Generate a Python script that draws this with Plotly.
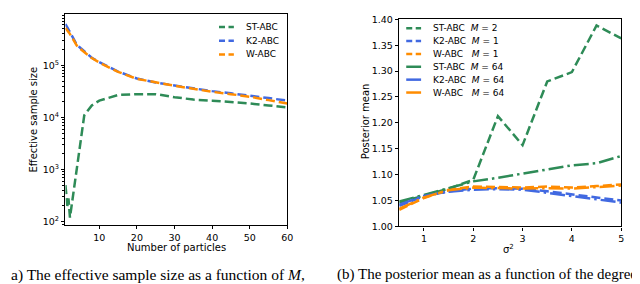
import plotly.graph_objects as go

# ---------------- data ----------------
# (a) effective sample size vs number of particles
st_x = [1, 1.5, 1.8, 2.2, 6, 8, 10, 15, 20, 25, 30, 35, 40, 45, 50, 55, 60]
st_ess = [500, 200, 280, 120, 11000, 17000, 21000, 27000, 28000, 28000, 24500,
          22000, 21000, 20000, 18500, 17000, 15500]
kw_x = [1, 2, 3, 4, 5, 6, 8, 10, 12, 15, 20, 25, 30, 35, 40, 45, 50, 55, 60]
k2_ess = [620000, 450000, 340000, 250000, 215000, 185000, 140000, 115000, 98000,
          76000, 56000, 47000, 41000, 36000, 32000, 29000, 26500, 23500, 21000]
w_ess = [520000, 420000, 320000, 240000, 205000, 180000, 138000, 113000, 96000,
         75000, 55000, 46500, 40500, 35500, 31000, 28000, 25000, 21500, 18500]

# (b) posterior mean vs sigma^2
sig2 = [0.5, 1.0, 1.5, 2.0, 2.5, 3.0, 3.5, 4.0, 4.5, 5.0]
st_m2 = [1.046, 1.060, 1.073, 1.090, 1.213, 1.157, 1.280, 1.298, 1.388, 1.363]
k2_m1 = [1.040, 1.058, 1.068, 1.073, 1.074, 1.073, 1.068, 1.062, 1.056, 1.050]
w_m1 = [1.032, 1.055, 1.071, 1.077, 1.076, 1.075, 1.077, 1.075, 1.078, 1.081]
st_m64 = [1.048, 1.061, 1.074, 1.087, 1.094, 1.102, 1.109, 1.118, 1.122, 1.136]
k2_m64 = [1.042, 1.059, 1.067, 1.071, 1.072, 1.071, 1.065, 1.059, 1.052, 1.046]
w_m64 = [1.034, 1.056, 1.070, 1.075, 1.074, 1.073, 1.074, 1.073, 1.076, 1.079]

left_xticks = [10, 20, 30, 40, 50, 60]
left_yticks = [100, 1000, 10000, 100000]
left_yticktext = ["10<sup>2</sup>", "10<sup>3</sup>", "10<sup>4</sup>", "10<sup>5</sup>"]
right_xticks = [1, 2, 3, 4, 5]
right_yticks = [1.00, 1.05, 1.10, 1.15, 1.20, 1.25, 1.30, 1.35, 1.40]

left_labels = ["ST-ABC", "K2-ABC", "W-ABC"]
right_labels = ["ST-ABC  <i>M</i> = 2", "K2-ABC  <i>M</i> = 1", "W-ABC   <i>M</i> = 1",
                "ST-ABC  <i>M</i> = 64", "K2-ABC  <i>M</i> = 64", "W-ABC   <i>M</i> = 64"]

GREEN, BLUE, ORANGE = "#2e8b57", "#4169e1", "#ff8c00"
DASH = "9px,4px"
DASHDOT = "15px,4px,2.5px,4px"
KEYDASH = "6px,3.5px"
LW = 2.5
FONT = "DejaVu Sans"

W, H = 640, 284

def px(xp):
    return xp / W

def py(yp):
    return (H - yp) / H

fig = go.Figure()

fig.add_trace(go.Scatter(x=st_x, y=st_ess, mode="lines", xaxis="x", yaxis="y",
                         line=dict(color=GREEN, width=LW, dash=DASH)))
fig.add_trace(go.Scatter(x=kw_x, y=k2_ess, mode="lines", xaxis="x", yaxis="y",
                         line=dict(color=BLUE, width=LW, dash=DASH)))
fig.add_trace(go.Scatter(x=kw_x, y=w_ess, mode="lines", xaxis="x", yaxis="y",
                         line=dict(color=ORANGE, width=LW, dash=DASH)))

for ys, col, dsh in [(st_m2, GREEN, DASH), (k2_m1, BLUE, DASH), (w_m1, ORANGE, DASH),
                     (st_m64, GREEN, DASHDOT), (k2_m64, BLUE, DASHDOT), (w_m64, ORANGE, DASHDOT)]:
    fig.add_trace(go.Scatter(x=sig2, y=ys, mode="lines", xaxis="x2", yaxis="y2",
                             line=dict(color=col, width=LW, dash=dsh)))

axcommon = dict(showline=True, linecolor="black", linewidth=1.2, mirror=True,
                ticks="outside", ticklen=3.5, tickwidth=1, tickcolor="black",
                showgrid=False, zeroline=False,
                tickfont=dict(family=FONT, size=9.5, color="black"))

fig.update_layout(
    width=W, height=H, margin=dict(l=0, r=0, t=0, b=0),
    paper_bgcolor="white", plot_bgcolor="white", showlegend=False,
    xaxis=dict(domain=[px(58), px(282)], range=[1, 60], tickvals=left_xticks,
               anchor="y", **axcommon),
    yaxis=dict(domain=[py(219), py(0.5)], type="log", range=[1.945, 5.976],
               tickvals=left_yticks, ticktext=left_yticktext,
               minor=dict(ticks="outside", ticklen=2, tickcolor="black", dtick="D1", showgrid=False),
               anchor="x", **axcommon),
    xaxis2=dict(domain=[px(395), px(619)], range=[0.5, 5], tickvals=right_xticks,
                anchor="y2", **axcommon),
    yaxis2=dict(domain=[py(221), py(5.5)], range=[0.99999, 1.40001], tickvals=right_yticks,
                ticktext=[f"{v:.2f}" for v in right_yticks],
                anchor="x2", **axcommon),
)

ann = []
def text(x, y, s, size=10, xanchor="center", family=FONT, angle=0):
    ann.append(dict(x=px(x), y=py(y), xref="paper", yref="paper", text=s, showarrow=False,
                    xanchor=xanchor, yanchor="middle", textangle=angle,
                    font=dict(family=family, size=size, color="black")))

# axis titles
text(170, 243, "Number of particles")
text(26, 110, "Effective sample size", angle=-90)
text(505, 244, "σ<sup>2</sup>")
text(361, 112, "Posterior mean", angle=-90)

# legends (keys)
shapes = []
def key(x0, y, col, dsh, label):
    shapes.append(dict(type="line", xref="paper", yref="paper", x0=px(x0), x1=px(x0 + 15),
                       y0=py(y), y1=py(y), line=dict(color=col, width=LW, dash=dsh)))
    text(x0 + 25, y, label, size=9, xanchor="left")

for i, (lab, col) in enumerate(zip(left_labels, [GREEN, BLUE, ORANGE])):
    key(213, 13.5 + i * 14.3, col, KEYDASH, lab)

rcols = [GREEN, BLUE, ORANGE, GREEN, BLUE, ORANGE]
for i, (lab, col) in enumerate(zip(right_labels, rcols)):
    key(402, 14.7 + i * 13.4, col, "solid" if i >= 3 else KEYDASH, lab)

# captions
SERIF = "Liberation Serif"
text(1, 271, "a) The effective sample size as a function of <i>M</i>,", size=15.5, xanchor="left", family=SERIF)
text(1, 289, "the number of particles.", size=15.5, xanchor="left", family=SERIF)
text(330, 271, "(b) The posterior mean as a function of the degree of", size=15, xanchor="left", family=SERIF)
text(342, 289, "of misspecification of the model.", size=15, xanchor="left", family=SERIF)

fig.update_layout(annotations=ann, shapes=shapes)
fig.write_html("out.html")
